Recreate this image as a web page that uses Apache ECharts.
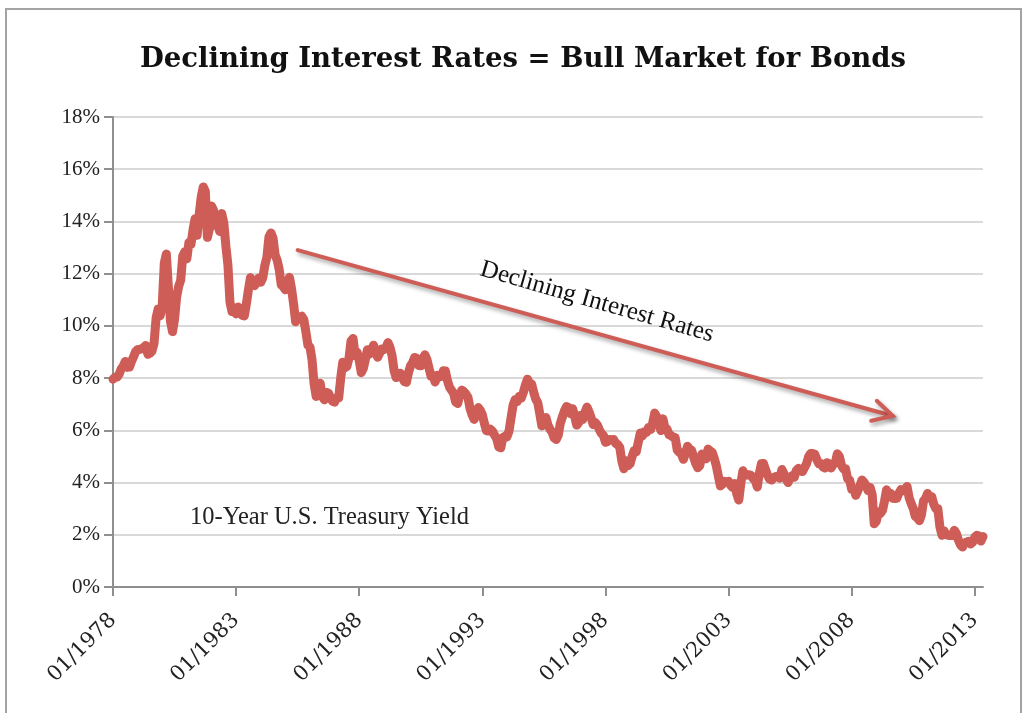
<!DOCTYPE html>
<html>
<head>
<meta charset="utf-8">
<script src="https://cdn.jsdelivr.net/npm/echarts@6/dist/echarts.min.js"></script>
<style>
  html, body { margin: 0; padding: 0; background: #fff; }
  #chart { width: 1024px; height: 713px; }
</style>
</head>
<body>
<div id="chart"></div>
<script>
// 10-year treasury yield, monthly, 01/1978 .. 05/2013
var startYear = 1978;
var yields = [
  7.96, 8.03, 8.04, 8.15, 8.35, 8.46, 8.64, 8.41, 8.42, 8.64, 8.81, 9.01,   // 1978
  9.10, 9.10, 9.12, 9.18, 9.25, 8.91, 8.95, 9.03, 9.33, 10.30, 10.65, 10.39, // 1979
  10.80, 12.41, 12.75, 11.47, 10.18, 9.78, 10.25, 11.10, 11.51, 11.75, 12.68, 12.84, // 1980
  12.57, 13.19, 13.12, 13.68, 14.10, 13.47, 14.28, 14.94, 15.32, 15.15, 13.39, 13.72, // 1981
  14.59, 14.43, 13.86, 13.87, 13.62, 14.30, 13.95, 13.06, 12.34, 10.91, 10.55, 10.54, // 1982
  10.46, 10.72, 10.51, 10.40, 10.38, 10.85, 11.38, 11.85, 11.65, 11.54, 11.69, 11.83, // 1983
  11.67, 11.84, 12.32, 12.63, 13.41, 13.56, 13.36, 12.72, 12.52, 12.16, 11.57, 11.50, // 1984
  11.38, 11.51, 11.86, 11.43, 10.85, 10.16, 10.31, 10.33, 10.37, 10.24, 9.78, 9.26,   // 1985
  9.19, 8.70, 7.78, 7.30, 7.71, 7.80, 7.30, 7.17, 7.45, 7.43, 7.25, 7.11,   // 1986
  7.08, 7.25, 7.25, 8.02, 8.61, 8.40, 8.45, 8.76, 9.42, 9.52, 8.86, 8.99,   // 1987
  8.67, 8.21, 8.37, 8.72, 9.09, 8.92, 9.06, 9.26, 8.98, 8.80, 8.96, 9.11,   // 1988
  9.09, 9.17, 9.36, 9.18, 8.86, 8.28, 8.02, 8.11, 8.19, 8.01, 7.87, 7.84,   // 1989
  8.21, 8.47, 8.59, 8.79, 8.76, 8.48, 8.47, 8.75, 8.89, 8.72, 8.39, 8.08,   // 1990
  8.09, 7.85, 8.11, 8.04, 8.07, 8.28, 8.27, 7.90, 7.65, 7.53, 7.42, 7.09,   // 1991
  7.03, 7.34, 7.54, 7.48, 7.39, 7.26, 6.84, 6.59, 6.42, 6.59, 6.87, 6.77,   // 1992
  6.60, 6.26, 5.98, 5.97, 6.04, 5.96, 5.81, 5.68, 5.36, 5.33, 5.72, 5.77,   // 1993
  5.75, 5.97, 6.48, 6.97, 7.18, 7.10, 7.30, 7.24, 7.46, 7.74, 7.96, 7.81,   // 1994
  7.78, 7.47, 7.20, 7.06, 6.63, 6.17, 6.28, 6.49, 6.20, 6.04, 5.93, 5.71,   // 1995
  5.65, 5.81, 6.27, 6.51, 6.74, 6.91, 6.87, 6.64, 6.83, 6.53, 6.20, 6.30,   // 1996
  6.58, 6.42, 6.69, 6.89, 6.71, 6.49, 6.22, 6.30, 6.21, 6.03, 5.88, 5.81,   // 1997
  5.54, 5.57, 5.65, 5.64, 5.65, 5.50, 5.46, 5.34, 4.81, 4.53, 4.83, 4.65,   // 1998
  4.72, 5.00, 5.23, 5.18, 5.54, 5.90, 5.79, 5.94, 5.92, 6.11, 6.03, 6.28,   // 1999
  6.66, 6.52, 6.26, 5.99, 6.44, 6.10, 6.05, 5.83, 5.80, 5.74, 5.72, 5.24,   // 2000
  5.16, 5.10, 4.89, 5.14, 5.39, 5.28, 5.24, 4.97, 4.73, 4.57, 4.65, 5.09,   // 2001
  5.04, 4.91, 5.28, 5.21, 5.16, 4.93, 4.65, 4.26, 3.87, 3.94, 4.05, 4.03,   // 2002
  4.05, 3.90, 3.81, 3.96, 3.57, 3.33, 3.98, 4.45, 4.27, 4.29, 4.30, 4.27,   // 2003
  4.15, 4.08, 3.83, 4.35, 4.72, 4.73, 4.50, 4.28, 4.13, 4.10, 4.19, 4.23,   // 2004
  4.22, 4.17, 4.50, 4.34, 4.14, 4.00, 4.18, 4.26, 4.20, 4.46, 4.54, 4.47,   // 2005
  4.42, 4.57, 4.72, 4.99, 5.11, 5.11, 5.09, 4.88, 4.72, 4.73, 4.60, 4.56,   // 2006
  4.76, 4.72, 4.56, 4.69, 4.75, 5.10, 5.00, 4.67, 4.52, 4.53, 4.15, 4.10,   // 2007
  3.74, 3.74, 3.51, 3.68, 3.88, 4.10, 4.01, 3.89, 3.69, 3.81, 3.53, 2.42,   // 2008
  2.52, 2.87, 2.82, 2.93, 3.29, 3.72, 3.56, 3.59, 3.40, 3.39, 3.40, 3.59,   // 2009
  3.73, 3.69, 3.73, 3.85, 3.42, 3.20, 3.01, 2.70, 2.65, 2.54, 2.76, 3.29,   // 2010
  3.39, 3.58, 3.41, 3.46, 3.17, 3.00, 3.00, 2.30, 1.98, 2.15, 2.01, 1.98,   // 2011
  1.97, 1.97, 2.17, 2.05, 1.80, 1.62, 1.53, 1.68, 1.72, 1.75, 1.65, 1.72,   // 2012
  1.91, 1.98, 1.96, 1.76, 1.93                                             // 2013
];

// month labels MM/YYYY, one per value
var months = [];
for (var i = 0; i < yields.length; i++) {
    var m = i % 12 + 1;
    months.push((m < 10 ? "0" + m : "" + m) + "/" + (startYear + Math.floor(i / 12)));
}

var titleText = "Declining Interest Rates = Bull Market for Bonds";
var seriesNote = "10-Year U.S. Treasury Yield";
var arrowNote = "Declining Interest Rates";
// arrow ends, in chart values [month, yield]
var arrowFrom = ["07/1985", 12.9];
var arrowTo = ["09/2009", 6.55];

var red = "#cd5d56";
var serif = "Liberation Serif";
var wideSerif = "DejaVu Serif";

var chart = echarts.init(document.getElementById("chart"), null, { renderer: "canvas" });

var option = {
    animation: false,
    backgroundColor: "#fff",
    title: {
        text: titleText,
        left: 518,
        textAlign: "center",
        top: 41,
        textStyle: { fontFamily: wideSerif, fontWeight: "bold", fontSize: 27.5, color: "#111" }
    },
    grid: { left: 113, right: 41, top: 117, bottom: 126, containLabel: false },
    xAxis: {
        type: "category",
        data: months,
        boundaryGap: false,
        axisLine: { lineStyle: { color: "#8f8f8f", width: 2 } },
        axisTick: { show: true, interval: 59, length: 9, lineStyle: { color: "#8f8f8f", width: 2 } },
        axisLabel: {
            interval: 59,
            rotate: 45,
            margin: 30,
            fontFamily: wideSerif,
            fontSize: 21,
            color: "#222"
        },
        splitLine: { show: false }
    },
    yAxis: {
        type: "value",
        min: 0,
        max: 18,
        interval: 2,
        axisLine: { show: true, lineStyle: { color: "#8f8f8f", width: 2 } },
        axisTick: { show: true, length: 9, lineStyle: { color: "#8f8f8f", width: 2 } },
        axisLabel: {
            formatter: "{value}%",
            margin: 13,
            fontFamily: serif,
            fontSize: 21,
            color: "#222"
        },
        splitLine: { lineStyle: { color: "#d9d9d9", width: 2 } }
    },
    series: [{
        type: "line",
        data: yields,
        showSymbol: false,
        smooth: false,
        lineStyle: { color: red, width: 9, join: "round", cap: "round" },
        itemStyle: { color: red }
    }]
};
chart.setOption(option);

// annotations placed from chart values
var p0 = chart.convertToPixel({ xAxisIndex: 0, yAxisIndex: 0 }, arrowFrom);
var p1 = chart.convertToPixel({ xAxisIndex: 0, yAxisIndex: 0 }, arrowTo);
var ang = Math.atan2(p1[1] - p0[1], p1[0] - p0[0]);
var headLen = 22, headAng = 28 * Math.PI / 180;
var h1 = [p1[0] - headLen * Math.cos(ang - headAng), p1[1] - headLen * Math.sin(ang - headAng)];
var h2 = [p1[0] - headLen * Math.cos(ang + headAng), p1[1] - headLen * Math.sin(ang + headAng)];
var shadow = { shadowBlur: 4, shadowOffsetX: 2, shadowOffsetY: 3, shadowColor: "rgba(0,0,0,0.35)" };

chart.setOption({
    graphic: [
        {
            type: "rect",
            shape: { x: 6, y: 9, width: 1015, height: 720 },
            style: { fill: "none", stroke: "#a3a3a3", lineWidth: 2 },
            silent: true
        },
        {
            type: "line",
            shape: { x1: p0[0], y1: p0[1], x2: p1[0], y2: p1[1] },
            style: Object.assign({ stroke: red, lineWidth: 4, lineCap: "round" }, shadow),
            silent: true
        },
        {
            type: "polyline",
            shape: { points: [h1, p1, h2] },
            style: Object.assign({ stroke: red, fill: null, lineWidth: 4, lineCap: "round", lineJoin: "miter" }, shadow),
            silent: true
        },
        {
            type: "text",
            x: 597,
            y: 302,
            rotation: -16 * Math.PI / 180,
            style: { text: arrowNote, fontFamily: serif, fontSize: 25, fill: "#111", align: "center", verticalAlign: "middle" },
            silent: true
        },
        {
            type: "text",
            x: 190,
            y: 518,
            style: { text: seriesNote, fontFamily: serif, fontSize: 24.5, fill: "#222", align: "left", verticalAlign: "middle" },
            silent: true
        }
    ]
});
</script>
</body>
</html>
